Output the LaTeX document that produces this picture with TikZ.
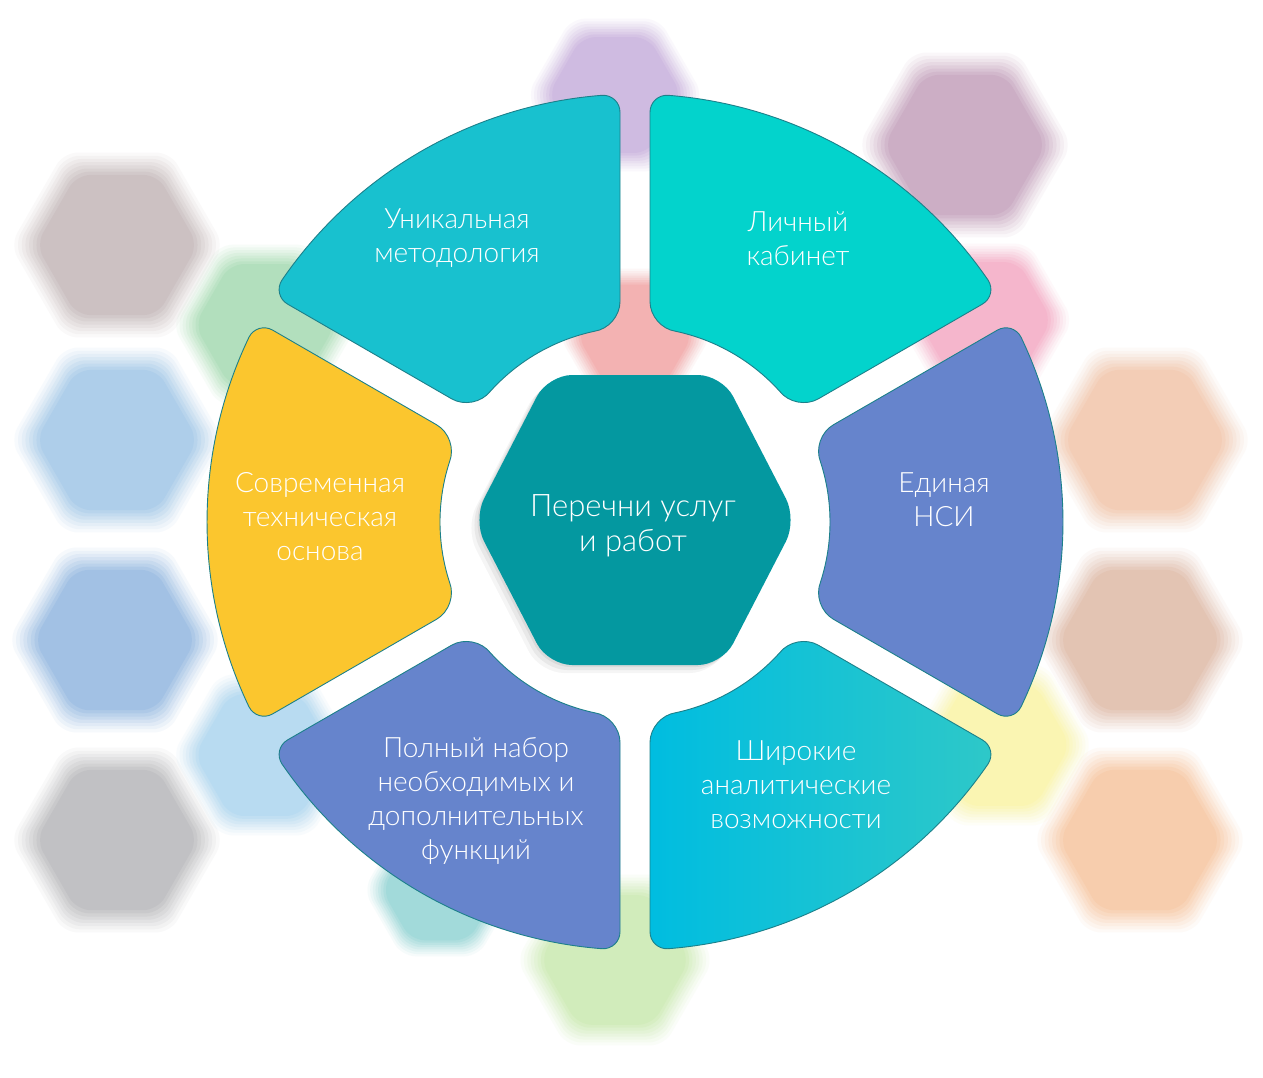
\documentclass[tikz,border=0pt]{standalone}
\usepackage{fontspec}
\IfFontExistsTF{Lato Light}{\setmainfont{Lato Light}}{\setmainfont{Lato}}
\usetikzlibrary{calc}
\definecolor{cTL}{RGB}{24,193,207}
\definecolor{cTR}{RGB}{3,211,204}
\definecolor{cBlue}{RGB}{102,132,204}
\definecolor{cYel}{RGB}{251,198,46}
\definecolor{cBRa}{RGB}{0,189,224}
\definecolor{cBRb}{RGB}{46,200,200}
\definecolor{cHex}{RGB}{4,152,160}
\definecolor{cOut}{RGB}{28,128,138}
\definecolor{bg1}{RGB}{196,182,184}
\definecolor{bg2}{RGB}{160,198,232}
\definecolor{bg3}{RGB}{145,182,225}
\definecolor{bg4}{RGB}{182,182,186}
\definecolor{bg5}{RGB}{165,218,178}
\definecolor{bg6}{RGB}{172,214,240}
\definecolor{bg7}{RGB}{145,212,212}
\definecolor{bg8}{RGB}{202,234,175}
\definecolor{bg9}{RGB}{200,175,222}
\definecolor{bg10}{RGB}{196,160,188}
\definecolor{bg11}{RGB}{244,170,196}
\definecolor{bg12}{RGB}{242,165,165}
\definecolor{bg13}{RGB}{242,197,170}
\definecolor{bg14}{RGB}{224,186,166}
\definecolor{bg15}{RGB}{247,197,158}
\definecolor{bg16}{RGB}{250,244,165}
\tikzset{
  segstyle/.style={draw=cOut, line width=0.9pt},
  lbl/.style={text=white, align=center, inner sep=0pt, font=\fontsize{28}{34}\selectfont},
  clbl/.style={text=white, align=center, inner sep=0pt, font=\fontsize{31}{35.5}\selectfont},
}
\newcommand\bghex[4]{%
  \foreach \k/\o in {1.16/0.08,1.12/0.1,1.08/0.12,1.04/0.15,1.0/0.18,0.96/0.22,0.92/0.3,0.88/0.4}{%
    \fill[#4,opacity=\o,rounded corners=14pt] (#1,-#2) ++(0:{#3*\k}) -- ++(120:{#3*\k}) -- ++(180:{#3*\k}) -- ++(240:{#3*\k}) -- ++(300:{#3*\k}) -- ++(0:{#3*\k}) -- cycle;}}
\newcommand\ringseg[2]{%
  \begin{scope}[shift={(635,-522)},rotate=#1]
    \path[segstyle,#2] (198.38,97.22) -- (362.34,191.88)
      .. controls ($(362.34,191.88)!0.55!(377.93,200.88)$) and ($(386.06,184.81)!0.55!(377.93,200.88)$) .. (25.58:428)
      arc[start angle=25.58, end angle=-25.58, radius=428]
      .. controls ($(386.06,-184.81)!0.55!(377.93,-200.88)$) and ($(362.34,-191.88)!0.55!(377.93,-200.88)$) .. (362.34,-191.88)
      -- (198.38,-97.22)
      .. controls ($(198.38,-97.22)!0.55!(175.87,-84.22)$) and ($(185.50,-60.10)!0.55!(175.87,-84.22)$) .. (-17.95:195)
      arc[start angle=-17.95, end angle=17.95, radius=195]
      .. controls ($(185.50,60.10)!0.55!(175.87,84.22)$) and ($(198.38,97.22)!0.55!(175.87,84.22)$) .. (198.38,97.22)
      -- cycle;
  \end{scope}}
\begin{document}
\begin{tikzpicture}[x=1pt,y=1pt]
\useasboundingbox (0,0) rectangle (1263,-1077);
\fill[white] (0,0) rectangle (1263,-1077);
% blurred background hexagons
\bghex{117}{245}{92}{bg1}
\bghex{117}{440}{92}{bg2}
\bghex{115}{640}{92}{bg3}
\bghex{117}{840}{92}{bg4}
\bghex{265}{325}{80}{bg5}
\bghex{265}{755}{80}{bg6}
\bghex{440}{890}{66}{bg7}
\bghex{615}{960}{85}{bg8}
\bghex{615}{95}{76}{bg9}
\bghex{965}{145}{92}{bg10}
\bghex{985}{320}{76}{bg11}
\bghex{635}{335}{66}{bg12}
\bghex{1145}{440}{92}{bg13}
\bghex{1140}{640}{92}{bg14}
\bghex{1140}{840}{92}{bg15}
\bghex{1000}{745}{80}{bg16}
% ring segments
\ringseg{120}{fill=cTL}
\ringseg{60}{fill=cTR}
\ringseg{0}{fill=cBlue}
\ringseg{-60}{left color=cBRa, right color=cBRb}
\ringseg{-120}{fill=cBlue}
\ringseg{180}{fill=cYel}
% centre hexagon shadow and shape
\foreach \o/\d in {0.04/8,0.05/5,0.06/2}{
  \fill[black,opacity=\o,rounded corners=24pt] ($(473,-520)+(-\d,-\d)$) -- ($(548,-375)+(-\d,-\d)$) -- ($(722,-375)+(-\d,-\d)$) -- ($(797,-520)+(-\d,-\d)$) -- ($(722,-665)+(-\d,-\d)$) -- ($(548,-665)+(-\d,-\d)$) -- cycle;}
\fill[cHex,rounded corners=24pt] (473,-520) -- (548,-375) -- (722,-375) -- (797,-520) -- (722,-665) -- (548,-665) -- cycle;
% labels
\node[lbl] (tUnik) at (457,-238.5) {Уникальная\\методология};
\node[lbl] (tLich) at (798,-238.5) {Личный\\кабинет};
\node[lbl] (tSovr) at (320,-516.5) {Современная\\техническая\\основа};
\node[lbl] (tEdin) at (944,-500) {Единая\\НСИ};
\node[clbl] (tCent) at (633,-525.5) {Перечни услуг\\и работ};
\node[lbl] (tPoln) at (476,-801.5) {Полный набор\\необходимых и\\дополнительных\\функций};
\node[lbl] (tShir) at (796,-784.5) {Широкие\\аналитические\\возможности};
\end{tikzpicture}
\end{document}
